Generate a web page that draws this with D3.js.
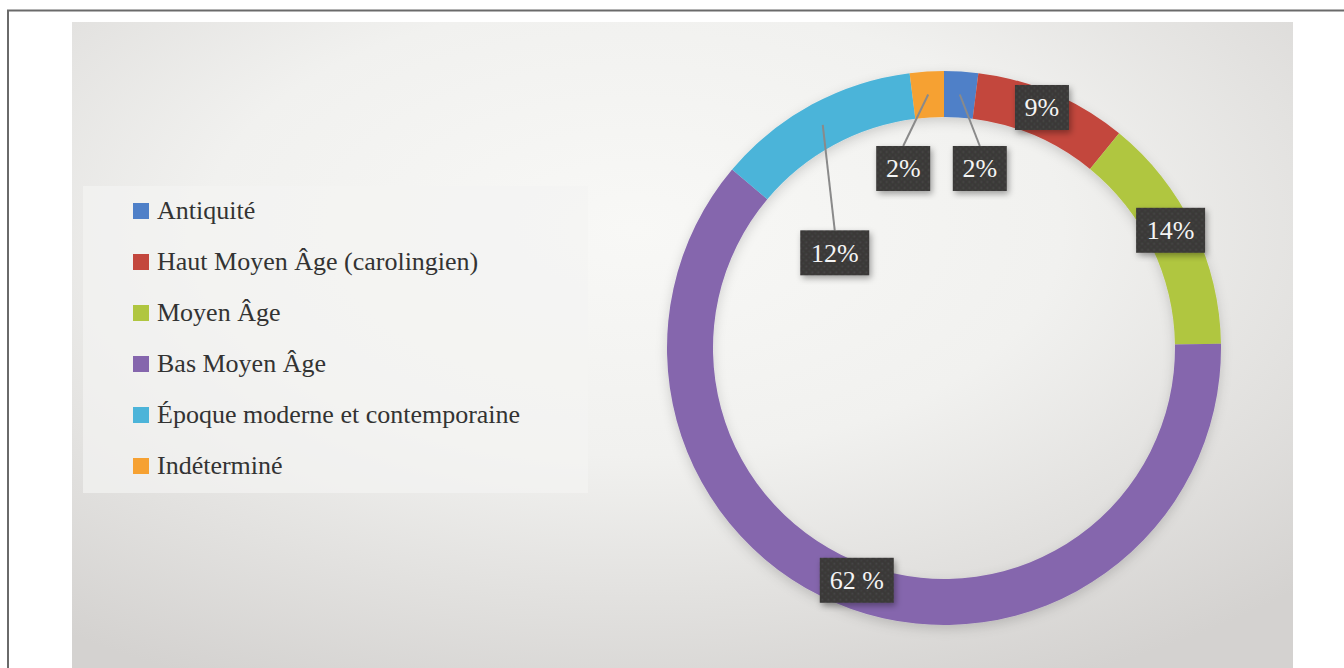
<!DOCTYPE html>
<html>
<head>
<meta charset="utf-8">
<script src="https://cdn.jsdelivr.net/npm/d3@7"></script>
<style>
  html, body { margin: 0; padding: 0; background: #fff; }
  svg { display: block; }
</style>
</head>
<body>
<div id="chart"></div>
<script>
const categories = ["Antiquité", "Haut Moyen Âge (carolingien)", "Moyen Âge", "Bas Moyen Âge", "Époque moderne et contemporaine", "Indéterminé"];
const shares = [2, 9, 14, 62, 12, 2];
const labelTexts = ["2%", "9%", "14%", "62 %", "12%", "2%"];
const colors = ["#4f80c8", "#c3473d", "#b0c640", "#8566ad", "#4cb4d9", "#f6a132"];

const W = 1344, H = 668;
const svg = d3.select("#chart").append("svg")
    .attr("width", W)
    .attr("height", H);

const defs = svg.append("defs");

// panel background, lighter towards the upper middle
const bg = defs.append("radialGradient")
    .attr("id", "bg")
    .attr("cx", "46%").attr("cy", "32%").attr("r", "78%");
bg.append("stop").attr("offset", "0%").attr("stop-color", "#f8f8f6");
bg.append("stop").attr("offset", "45%").attr("stop-color", "#f1f1ef");
bg.append("stop").attr("offset", "100%").attr("stop-color", "#d4d2d0");

// soft shadow for label boxes
const shadow = defs.append("filter").attr("id", "shadow")
    .attr("x", "-20%").attr("y", "-20%").attr("width", "140%").attr("height", "140%");
shadow.append("feDropShadow")
    .attr("dx", 2).attr("dy", 3).attr("stdDeviation", 3)
    .attr("flood-color", "#000").attr("flood-opacity", 0.35);

const ringShadow = defs.append("filter").attr("id", "ringShadow")
    .attr("x", "-10%").attr("y", "-10%").attr("width", "120%").attr("height", "120%");
ringShadow.append("feDropShadow")
    .attr("dx", 0).attr("dy", 4).attr("stdDeviation", 6)
    .attr("flood-color", "#000").attr("flood-opacity", 0.16);

// dotted texture of the label boxes
const pat = defs.append("pattern").attr("id", "dots")
    .attr("width", 6).attr("height", 6).attr("patternUnits", "userSpaceOnUse");
pat.append("rect").attr("width", 6).attr("height", 6).attr("fill", "#3a3938");
pat.append("circle").attr("cx", 1.5).attr("cy", 1.5).attr("r", 1).attr("fill", "#4a4948");
pat.append("circle").attr("cx", 4.5).attr("cy", 4.5).attr("r", 1).attr("fill", "#444342");

// outer frame (left and top rules only)
svg.append("line").attr("x1", 7).attr("y1", 10.5).attr("x2", W).attr("y2", 10.5)
    .attr("stroke", "#6a6a6a").attr("stroke-width", 2);
svg.append("line").attr("x1", 8).attr("y1", 10).attr("x2", 8).attr("y2", H)
    .attr("stroke", "#6a6a6a").attr("stroke-width", 2);

// chart panel
svg.append("rect")
    .attr("x", 72).attr("y", 22)
    .attr("width", 1293 - 72).attr("height", H - 22)
    .attr("fill", "url(#bg)");

// legend box
const legend = svg.append("g");
legend.append("rect")
    .attr("x", 83).attr("y", 186)
    .attr("width", 505).attr("height", 307)
    .attr("fill", "#f4f4f2")
    .attr("fill-opacity", 0.7);

const rowY = d3.scalePoint()
    .domain(categories)
    .range([211, 466]);

const rows = legend.selectAll("g.row")
    .data(categories)
    .join("g")
    .attr("class", "row")
    .attr("transform", d => `translate(133,${rowY(d)})`);

rows.append("rect")
    .attr("x", 0).attr("y", -8)
    .attr("width", 16).attr("height", 16)
    .attr("fill", (d, i) => colors[i]);

rows.append("text")
    .attr("x", 24).attr("y", 8)
    .attr("font-family", "'Liberation Serif', 'DejaVu Serif', serif")
    .attr("font-size", "26px")
    .attr("fill", "#333")
    .text(d => d);

// donut
const cx = 944, cy = 348;
const outerR = 277, innerR = 231;

const pie = d3.pie().sort(null).value(d => d);
const arcs = pie(shares);

const arc = d3.arc().innerRadius(innerR).outerRadius(outerR);
const labelArc = d3.arc().innerRadius(254).outerRadius(254);

const donut = svg.append("g").attr("transform", `translate(${cx},${cy})`);

donut.append("g")
    .attr("filter", "url(#ringShadow)")
    .selectAll("path")
    .data(arcs)
    .join("path")
    .attr("d", arc)
    .attr("fill", (d, i) => colors[i]);

// small slices get their label pulled inside with a leader line
const labelNudge = {
    0: [20, 74],
    4: [12, 128],
    5: [-25, 74]
};

const labels = donut.append("g");
arcs.forEach((d, i) => {
    const [ax, ay] = labelArc.centroid(d);
    const nudge = labelNudge[i] || [-2, -7];
    const lx = ax + nudge[0], ly = ay + nudge[1];
    const txt = labelTexts[i];
    const boxW = txt.length >= 4 ? 74 : (txt.length === 3 ? 69 : 54);
    const boxH = 45;

    if (labelNudge[i]) {
        labels.append("line")
            .attr("x1", ax).attr("y1", ay)
            .attr("x2", lx).attr("y2", ly - boxH / 2)
            .attr("stroke", "#8a8a8a")
            .attr("stroke-width", 2);
    }

    const g = labels.append("g").attr("transform", `translate(${lx},${ly})`);
    g.append("rect")
        .attr("x", -boxW / 2).attr("y", -boxH / 2)
        .attr("width", boxW).attr("height", boxH)
        .attr("fill", "url(#dots)")
        .attr("filter", "url(#shadow)");
    g.append("text")
        .attr("text-anchor", "middle")
        .attr("y", 9)
        .attr("font-family", "'Liberation Serif', 'DejaVu Serif', serif")
        .attr("font-size", "26px")
        .attr("fill", "#f4f4f4")
        .text(txt);
});
</script>
</body>
</html>
